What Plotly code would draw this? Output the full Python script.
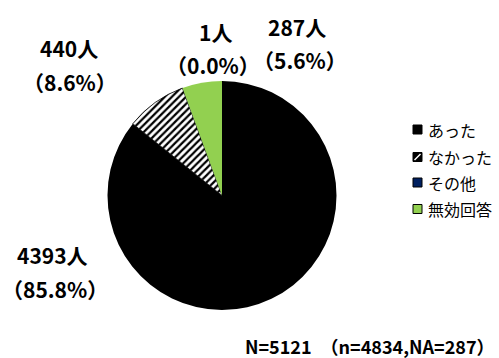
import plotly.graph_objects as go

# Survey responses
categories = ["あった", "なかった", "その他", "無効回答"]
counts = [4393, 440, 1, 287]
slice_colors = ["#000000", "#ffffff", "#002060", "#92D050"]
note_text = "N=5121　（n=4834,NA=287）"

W, H = 499, 358
total = sum(counts)
percents = [c / total * 100 for c in counts]

FONT = "Noto Sans CJK JP, Noto Sans, sans-serif"


def px(x):
    return x / W


def py(y):
    return 1 - y / H


fig = go.Figure()

fig.add_trace(go.Pie(
    labels=categories,
    values=counts,
    sort=False,
    direction="clockwise",
    rotation=0,
    textinfo="none",
    hoverinfo="label+value+percent",
    showlegend=False,
    marker=dict(
        colors=slice_colors,
        line=dict(color=["#000000", "#000000", "#002060", "#92D050"], width=[0, 0.8, 0, 0]),
        pattern=dict(
            shape=["", "/", "", ""],
            fgcolor="#000000",
            bgcolor=slice_colors,
            size=5,
            solidity=0.45,
            fillmode="replace",
        ),
    ),
    domain=dict(x=[px(107), px(337)], y=[py(310), py(81)]),
))

# Value labels: count on the first line, share on the second
label_pos = {
    0: ((52, 255), (55, 289)),
    1: ((69, 48), (70, 82)),
    2: ((215, 32), (213, 65)),
    3: ((297, 27), (300, 60)),
}
for i, ((x1, y1), (x2, y2)) in label_pos.items():
    fig.add_annotation(
        x=px(x1), y=py(y1), xref="paper", yref="paper",
        text=f"<b>{counts[i]}人</b>", showarrow=False,
        xanchor="center", yanchor="middle",
        font=dict(family=FONT, size=21, color="#000000"),
    )
    fig.add_annotation(
        x=px(x2), y=py(y2), xref="paper", yref="paper",
        text=f"<b>（{percents[i]:.1f}%）</b>", showarrow=False,
        xanchor="center", yanchor="middle",
        font=dict(family=FONT, size=21, color="#000000"),
    )

# Legend drawn as swatches with captions
row_y = [129.5, 157, 182.5, 209]
for i, name in enumerate(categories):
    cy = row_y[i]
    x0, x1 = 413, 422
    y0, y1 = cy - 4.5, cy + 4.5
    fill = slice_colors[i] if i != 1 else "#000000"
    fig.add_shape(
        type="rect", xref="paper", yref="paper",
        x0=px(x0), x1=px(x1), y0=py(y1), y1=py(y0),
        fillcolor=fill, line=dict(color="#000000", width=1),
    )
    if i == 1:
        fig.add_shape(
            type="line", xref="paper", yref="paper",
            x0=px(x0 + 1.5), y0=py(y1 - 1.5), x1=px(x1 - 1.5), y1=py(y0 + 1.5),
            line=dict(color="#ffffff", width=1.5),
        )
    fig.add_annotation(
        x=px(426), y=py(cy), xref="paper", yref="paper",
        text=name, showarrow=False, xanchor="left", yanchor="middle",
        font=dict(family=FONT, size=16, color="#000000"),
    )

fig.add_annotation(
    x=px(497), y=py(346), xref="paper", yref="paper",
    text=f"<b>{note_text}</b>", showarrow=False,
    xanchor="right", yanchor="middle",
    font=dict(family=FONT, size=18, color="#000000"),
)

fig.update_layout(
    width=W, height=H,
    margin=dict(l=0, r=0, t=0, b=0),
    paper_bgcolor="#ffffff",
    plot_bgcolor="#ffffff",
)

fig.write_html("out.html")
